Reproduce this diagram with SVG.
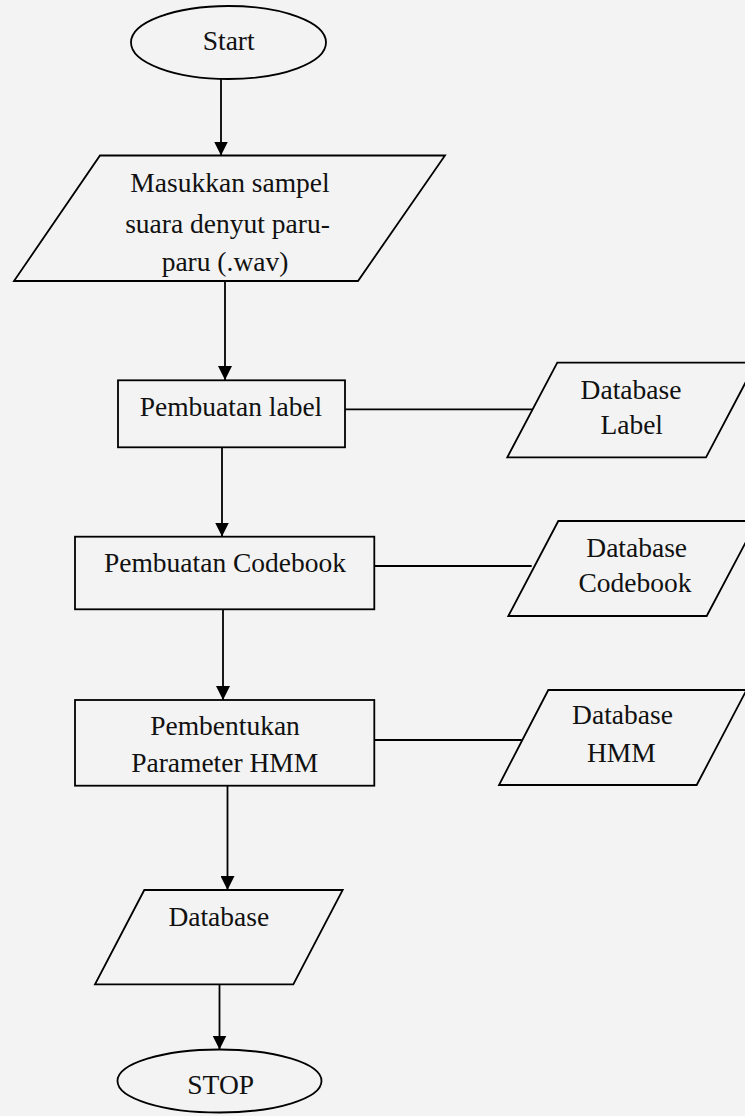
<svg xmlns="http://www.w3.org/2000/svg" width="745" height="1116" viewBox="0 0 745 1116">
  <style>
    .shape { fill: none; stroke: #000; stroke-width: 1.8; }
    .link { fill: none; stroke: #000; stroke-width: 1.8; }
    .label { font-family: "Liberation Serif", "Times New Roman", serif; font-size: 27.5px; fill: #111; text-anchor: middle; }
  </style>
  <defs>
    <marker id="arrow" viewBox="0 0 14 14" refX="14" refY="7" markerUnits="userSpaceOnUse" markerWidth="14" markerHeight="14" orient="auto">
      <path d="M0,0 L14,7 L0,14 z" fill="#000"/>
    </marker>
  </defs>

  <rect x="0" y="0" width="745" height="1116" fill="#f3f3f3"/>

  <!-- connectors -->
  <g id="connectors">
    <line class="link" x1="221" y1="79" x2="221" y2="155.5" marker-end="url(#arrow)"/>
    <line class="link" x1="225" y1="281" x2="225" y2="380" marker-end="url(#arrow)"/>
    <line class="link" x1="222" y1="447" x2="222" y2="536.5" marker-end="url(#arrow)"/>
    <line class="link" x1="223" y1="609.5" x2="223" y2="700" marker-end="url(#arrow)"/>
    <line class="link" x1="227.5" y1="785.5" x2="227.5" y2="890" marker-end="url(#arrow)"/>
    <line class="link" x1="219.5" y1="984.5" x2="219.5" y2="1049.5" marker-end="url(#arrow)"/>
    <line class="link" x1="345" y1="409.3" x2="532.7" y2="409.3"/>
    <line class="link" x1="374.3" y1="566" x2="531.7" y2="566"/>
    <line class="link" x1="374.3" y1="740" x2="521.7" y2="740"/>
  </g>

  <g id="start">
    <ellipse class="shape" cx="228.5" cy="42.5" rx="97.5" ry="36.5"/>
    <text class="label" x="228.7" y="50">Start</text>
  </g>

  <g id="input-sample">
    <polygon class="shape" points="100,155.5 445,155.5 358,281 14,281"/>
    <text class="label" x="230" y="192.3">Masukkan sampel</text>
    <text class="label" x="227.5" y="233">suara denyut paru-</text>
    <text class="label" x="225" y="271">paru (.wav)</text>
  </g>

  <g id="make-label">
    <rect class="shape" x="118" y="380.3" width="227" height="67"/>
    <text class="label" x="231" y="416">Pembuatan label</text>
  </g>

  <g id="db-label">
    <polygon class="shape" points="557.3,362.7 756,362.7 706,457.3 507.3,457.3"/>
    <text class="label" x="631" y="399.3">Database</text>
    <text class="label" x="631.7" y="434">Label</text>
  </g>

  <g id="make-codebook">
    <rect class="shape" x="75" y="536.7" width="299.3" height="72.6"/>
    <text class="label" x="225" y="571.7">Pembuatan Codebook</text>
  </g>

  <g id="db-codebook">
    <polygon class="shape" points="558.3,521 757,521 706.7,616 508.3,616"/>
    <text class="label" x="636.7" y="557.3">Database</text>
    <text class="label" x="635" y="591.7">Codebook</text>
  </g>

  <g id="make-hmm">
    <rect class="shape" x="75" y="700" width="299.3" height="85.7"/>
    <text class="label" x="225" y="735">Pembentukan</text>
    <text class="label" x="224.7" y="771.7">Parameter HMM</text>
  </g>

  <g id="db-hmm">
    <polygon class="shape" points="548.3,690 746.5,690 696.7,785 499,785"/>
    <text class="label" x="622.5" y="724">Database</text>
    <text class="label" x="621.3" y="761.7">HMM</text>
  </g>

  <g id="database">
    <polygon class="shape" points="144.3,890 342.7,890 293.3,984.3 95,984.3"/>
    <text class="label" x="218.8" y="925.7">Database</text>
  </g>

  <g id="stop">
    <ellipse class="shape" cx="219.5" cy="1081" rx="102" ry="31.5"/>
    <text class="label" x="220.7" y="1094">STOP</text>
  </g>
</svg>
